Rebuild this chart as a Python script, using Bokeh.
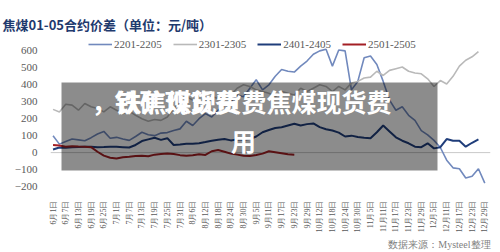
import math
from bokeh.plotting import figure
from bokeh.models import (Range1d, FixedTicker, Label, BoxAnnotation, Legend,
                          LegendItem, Span, Title)
from bokeh.embed import file_html
from bokeh.resources import INLINE

# ---------------- data ----------------
tick_labels = ["6月1日", "6月7日", "6月13日", "6月19日", "6月25日", "7月1日", "7月7日",
               "7月13日", "7月19日", "7月25日", "7月31日", "8月6日", "8月12日", "8月18日",
               "8月24日", "8月30日", "9月5日", "9月11日", "9月17日", "9月23日", "9月29日",
               "10月12日", "10月18日", "10月24日", "10月30日", "11月5日", "11月11日",
               "11月17日", "11月23日", "11月29日", "12月5日", "12月11日", "12月17日",
               "12月23日", "12月29日"]
tick_step = 6      # days between labelled categories
sample_step = 3    # days between sampled values

series_names = ["2201-2205", "2301-2305", "2401-2405", "2501-2505"]

s2201 = [100, 50, 65, 80, 75, 70, 88, 110, 125, 85, 90, 80, 72, 95, 120, 105, 100, 115,
         118, 130, 140, 185, 160, 200, 230, 210, 250, 280, 300, 340, 330, 380, 430, 370,
         400, 450, 490, 480, 475, 510, 540, 580, 600, 610, 510, 605, 600, 370, 420, 560,
         570, 520, 420, 310, 250, 270, 220, 190, 130, 105, 72, 30, -45, -90, -95, -150,
         -140, -95, -180]
s2301 = [255, 240, 285, 280, 250, 290, 270, 260, 240, 270, 250, 230, 245, 220, 200, 185,
         195, 190, 210, 260, 300, 330, 310, 290, 300, 330, 320, 350, 340, 380, 400, 390,
         370, 360, 350, 330, 360, 350, 340, 380, 360, 380, 400, 390, 360, 390, 370, 410,
         420, 440, 445, 480, 455, 485, 495, 505, 480, 470, 465, 435, 390, 425, 405, 450,
         510, 545, 565, 595]
s2401 = [18, 30, 28, 32, 33, 35, 35, 32, 33, 35, 34, 32, 30, 45, 68, 78, 88, 75, 85, 45,
         48, 52, 52, 55, 62, 70, 76, 80, 72, 78, 76, 80, 95, 120, 133, 145, 150, 160, 170,
         160, 168, 172, 150, 138, 130, 118, 95, 100, 92, 88, 85, 120, 160, 125, 90, 70, 55,
         35, 32, 55, 25, 32, 80, 70, 70, 35, 58, 78]
s2501 = [45, 42, 35, 38, 36, 35, 32, 5, -18, -30, -35, -28, -25, -20, -18, -22, -12, -8,
         -6, -8, -15, -18, -16, -10, -14, 8, 15, 5, -6, -12, -18, -20, -14, -6, 8, 2, -4,
         -10, -12]

y_ticks = [-200, -100, 0, 100, 200, 300, 400, 500, 600]

colors = ["#7189bd", "#b9b9b9", "#1f3d7a", "#a31f24"]
widths = [1.6, 1.6, 2.0, 2.0]

# ---------------- layout ----------------
W, H = 500, 252
FL, FR, FT, FB = 50, 490, 36, 186
PX_PER_UNIT = 139.0 / 820.0
X0, X1 = -1.2, 206.7
Y0 = -200
Y1 = Y0 + (FB - FT) / PX_PER_UNIT


def X(px):
    return X0 + (px - FL) * (X1 - X0) / (FR - FL)


def Y(py):
    return Y0 + (FB - py) * (Y1 - Y0) / (FB - FT)


p = figure(width=W, height=H, output_backend="svg", toolbar_location=None,
           x_range=Range1d(X0, X1), y_range=Range1d(Y0, Y1),
           min_border_left=FL, min_border_right=W - FR,
           min_border_top=FT, min_border_bottom=H - FB)
p.outline_line_color = None
p.grid.visible = False
p.background_fill_color = "white"
p.border_fill_color = "white"

p.title.text = "焦煤01-05合约价差（单位：元/吨）"
p.title.align = "left"
p.title.offset = -48
p.title.text_font = "Noto Sans CJK SC"
p.title.text_font_style = "bold"
p.title.text_font_size = "13px"
p.title.text_color = "#1f3a6e"
p.title.standoff = 2
p.title.text_line_height = 2.2
p.title.vertical_align = "top"

zero = Span(location=0, dimension="width", line_color="#c9c9c9", line_width=1,
            level="underlay")
p.add_layout(zero)

renderers = []
for name, vals, c, w in zip(series_names, [s2201, s2301, s2401, s2501], colors, widths):
    xs = [i * sample_step for i in range(len(vals))]
    r = p.line(xs, vals, line_color=c, line_width=w)
    renderers.append(r)

# axes
ax = p.xaxis[0]
ax.ticker = FixedTicker(ticks=[i * tick_step for i in range(len(tick_labels))])
ax.major_label_overrides = {i * tick_step: t for i, t in enumerate(tick_labels)}
ax.major_label_orientation = math.pi / 2
ax.axis_line_color = None
ax.major_tick_line_color = None
ax.minor_tick_line_color = None
ax.major_label_standoff = 8
ax.major_label_text_font = "Liberation Serif"
ax.major_label_text_font_size = "8px"
ax.major_label_text_color = "#595959"

ay = p.yaxis[0]
ay.ticker = FixedTicker(ticks=y_ticks)
ay.axis_line_color = None
ay.major_tick_line_color = None
ay.minor_tick_line_color = None
ay.major_label_standoff = 7
ay.major_label_text_font = "Liberation Serif"
ay.major_label_text_font_size = "11px"
ay.major_label_text_color = "#595959"

legend = Legend(items=[LegendItem(label=n, renderers=[r]) for n, r in zip(series_names, renderers)],
                orientation="horizontal", location=(38, 136),
                label_text_font="Liberation Serif", label_text_font_size="11px",
                label_text_color="#595959", glyph_width=24, glyph_height=12,
                label_height=12, label_standoff=2, spacing=11, padding=0, margin=0,
                border_line_color=None, background_fill_alpha=0)
p.add_layout(legend)

# source note below the axis
src = Title(text="数据来源：Mysteel整理", align="right", text_font="Liberation Serif",
            text_font_size="10px", text_color="#7f7f7f", text_font_style="normal",
            standoff=2)
p.add_layout(src, "below")

# watermark overlay
p.add_layout(BoxAnnotation(left=X(61), right=X(437), top=Y(82), bottom=Y(170),
                           fill_color="black", fill_alpha=0.45, line_color=None))
p.add_layout(Label(x=X(241), y=Y(100), text="，铁焦煤现货费焦煤现货费",
                   text_font="Noto Sans CJK SC", text_font_style="bold",
                   text_font_size="25px", text_color="white",
                   text_baseline="middle", text_align="center"))
p.add_layout(Label(x=X(114), y=Y(100), text="铁矿现货费",
                   text_font="Noto Sans CJK SC", text_font_style="bold",
                   text_font_size="25px", text_color="white",
                   text_baseline="middle", text_align="left"))
p.add_layout(Label(x=X(243), y=Y(139), text="用",
                   text_font="Noto Sans CJK SC", text_font_style="bold",
                   text_font_size="25px", text_color="white",
                   text_baseline="middle", text_align="center"))

open("out.html", "w").write(file_html(p, INLINE))
